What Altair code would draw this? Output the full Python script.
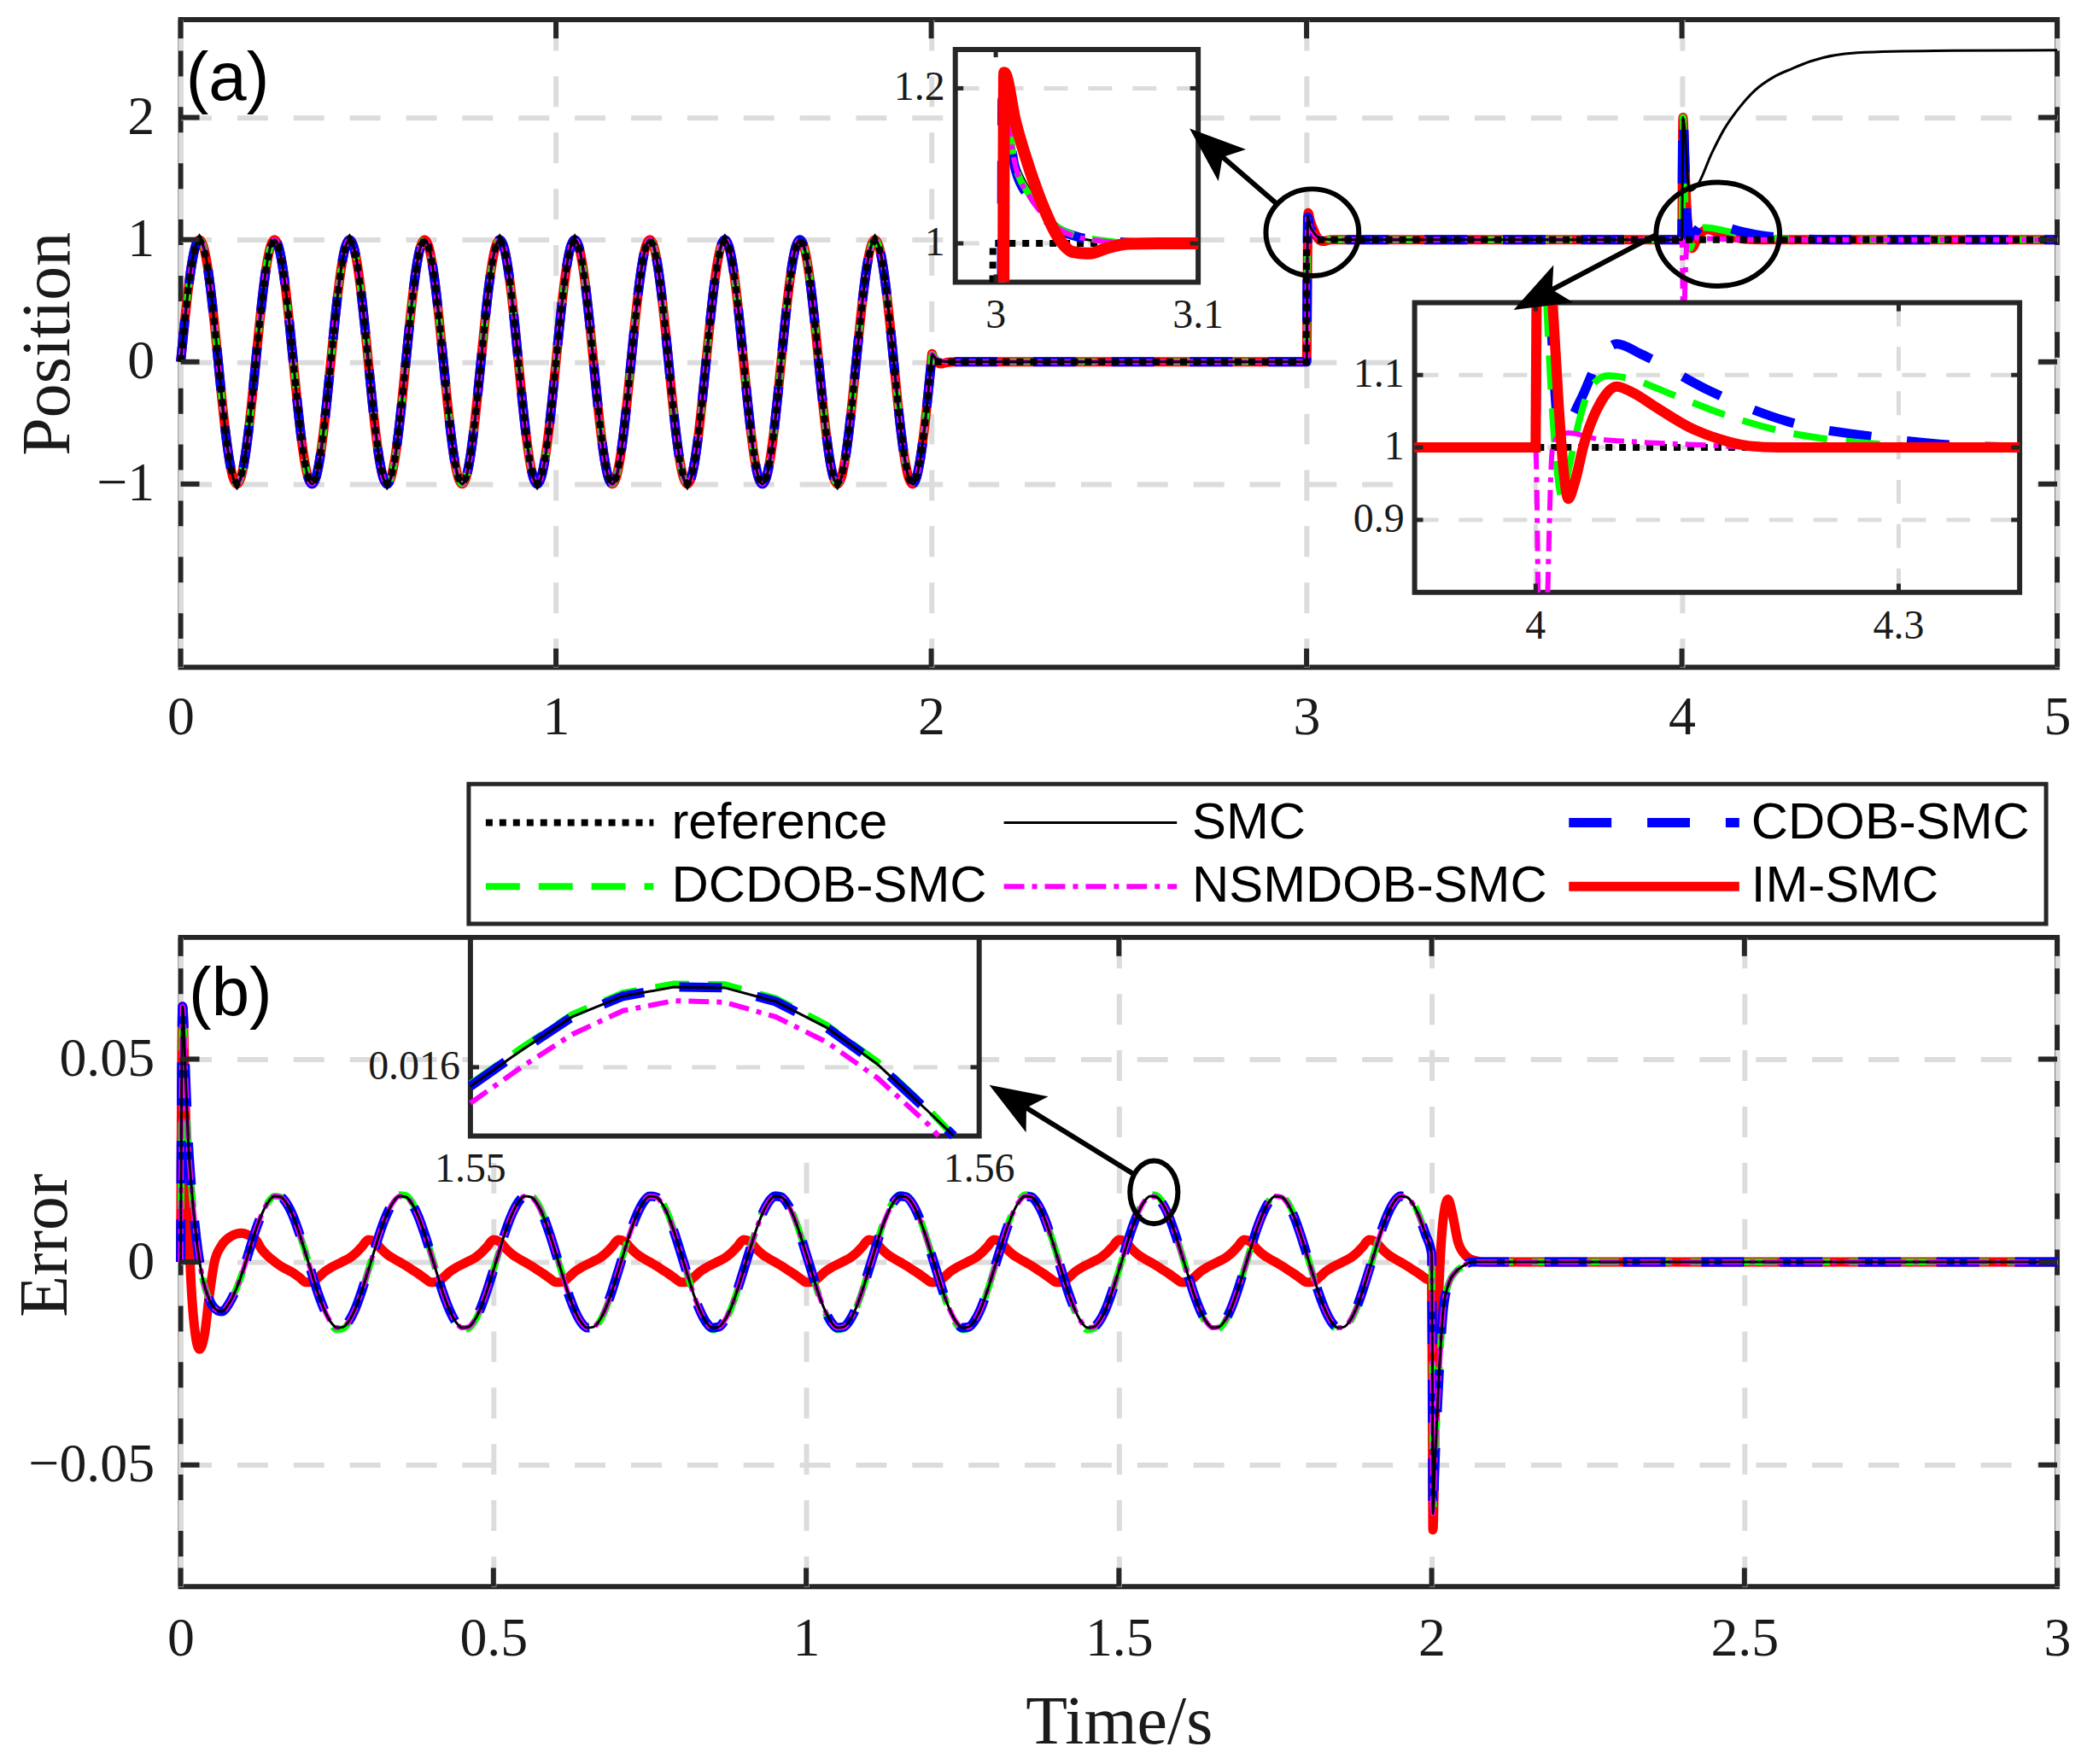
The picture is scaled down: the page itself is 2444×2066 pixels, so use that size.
import altair as alt
import pandas as pd

# ---------------- layout / style constants ----------------
W = 2202
H_TOP = 760
H_LEG = 297
H_BOT = 762
GAP = 10

FRAME = "#262626"
GRID = "#dcdcdc"
TXT = "#1a1a1a"
SERIF = "Liberation Serif"
SANS = "Liberation Sans"

SERIES = ["reference", "SMC", "CDOB-SMC", "DCDOB-SMC", "NSMDOB-SMC", "IM-SMC"]
COLORS = ["#000000", "#000000", "#0000ff", "#00ff00", "#ff00ff", "#ff0000"]
WIDTHS = [8, 3, 11, 8, 6, 11]
DASHES = [[8, 8], None, [50, 42], [40, 22], [24, 9, 6, 9], None]

# ---------------- data: panel (a) position ----------------
CYCLE_STEP = 0.01
PERIOD = 0.2
POS_CYCLE = [0.0, 0.309, 0.588, 0.809, 0.951, 1.0, 0.951, 0.809, 0.588, 0.309,
             0.0, -0.309, -0.588, -0.809, -0.951, -1.0, -0.951, -0.809, -0.588, -0.309]
POS_CYCLES = 10

POS_TAIL_REF = [(2.0, 0.0), (2.999, 0.0), (3.0, 1.0), (5.0, 1.0)]
POS_T2_COMMON = [(2.0, 0.0), (2.002, 0.062), (2.011, 0.030), (2.019, 0.011), (2.038, 0.0025), (2.065, 0.0)]
POS_TAIL_SMC = [(3.0, 0.0), (3.0034, 1.19), (3.0097, 1.110), (3.0168, 1.069), (3.024, 1.040), (3.031, 1.022),
                (3.041, 1.007), (3.052, 1.0025), (3.066, 1.0), (4.0, 1.0), (4.003, 2.0), (4.02, 1.40),
                (4.04, 1.44), (4.08, 1.71), (4.112, 1.90), (4.153, 2.08), (4.194, 2.22), (4.244, 2.33),
                (4.294, 2.40), (4.343, 2.46), (4.467, 2.53), (4.673, 2.546), (5.0, 2.55)]
POS_TAIL_CDOB = [(3.0, 0.0), (3.0032, 1.185), (3.0097, 1.095), (3.0168, 1.058), (3.024, 1.033), (3.031, 1.018),
                 (3.041, 1.008), (3.052, 1.004), (3.066, 1.001), (3.08, 1.0), (4.0, 1.0), (4.003, 2.0),
                 (4.012, 1.25), (4.020, 1.02), (4.037, 1.065), (4.052, 1.12), (4.067, 1.143), (4.087, 1.129),
                 (4.144, 1.078), (4.21, 1.035), (4.283, 1.014), (4.33, 1.005), (4.4, 1.0), (5.0, 1.0)]
POS_TAIL_DCDOB = [(3.0, 0.0), (3.0033, 1.19), (3.0097, 1.10), (3.0168, 1.062), (3.024, 1.036), (3.031, 1.02),
                  (3.041, 1.009), (3.052, 1.004), (3.07, 1.0), (4.0, 1.0), (4.003, 2.0), (4.009, 1.25),
                  (4.016, 1.0), (4.022, 0.930), (4.028, 0.975), (4.034, 1.023), (4.047, 1.087), (4.060, 1.099),
                  (4.080, 1.094), (4.110, 1.075), (4.160, 1.043), (4.21, 1.020), (4.26, 1.008), (4.31, 1.002),
                  (4.35, 1.0), (5.0, 1.0)]
POS_TAIL_NSMDOB = [(3.0, 0.0), (3.0033, 1.188), (3.0097, 1.10), (3.0168, 1.06), (3.024, 1.035), (3.031, 1.019),
                   (3.041, 1.008), (3.052, 1.003), (3.07, 1.0), (4.0, 1.0), (4.004, 0.30), (4.011, 0.85),
                   (4.014, 1.0), (4.02, 1.017), (4.027, 1.02), (4.05, 1.012), (4.08, 1.008), (4.13, 1.004),
                   (4.2, 1.0), (5.0, 1.0)]
POS_TAIL_IM = [(2.0, 0.0), (2.002, 0.066), (2.006, 0.035), (2.012, 0.005), (2.018, -0.010), (2.026, -0.0165),
               (2.033, -0.012), (2.042, -0.005), (2.055, -0.0015), (2.07, -0.0003), (2.085, 0.0),
               (3.0, 0.0), (3.0042, 1.22), (3.0097, 1.157), (3.0168, 1.095), (3.024, 1.044), (3.031, 1.007),
               (3.038, 0.989), (3.0464, 0.987), (3.055, 0.994), (3.066, 0.9995), (3.08, 1.0), (4.0, 1.0),
               (4.003, 2.0), (4.008, 1.6), (4.014, 1.2), (4.022, 0.98), (4.027, 0.929), (4.034, 0.96),
               (4.040, 1.005), (4.054, 1.063), (4.067, 1.084), (4.080, 1.076), (4.100, 1.055), (4.127, 1.028),
               (4.153, 1.011), (4.177, 1.002), (4.2, 1.0), (5.0, 1.0)]

# inset 1 (t in [2.98, 3.10], value in [0.95, 1.25])
IN1_REF = [(2.9985, 0.95), (2.9986, 1.0), (3.1, 1.0)]
IN1_SMC = [(3.0030, 0.95), (3.0034, 1.19), (3.0097, 1.110), (3.0168, 1.069), (3.0239, 1.040), (3.031, 1.022),
           (3.041, 1.007), (3.052, 1.0025), (3.066, 1.0), (3.1, 1.0)]
IN1_CDOB = [(3.0029, 0.95), (3.0032, 1.185), (3.0097, 1.095), (3.0168, 1.058), (3.024, 1.033), (3.031, 1.018),
            (3.041, 1.008), (3.052, 1.004), (3.066, 1.001), (3.08, 1.0), (3.1, 1.0)]
IN1_DCDOB = [(3.0030, 0.95), (3.0033, 1.19), (3.0097, 1.10), (3.0168, 1.062), (3.024, 1.036), (3.031, 1.02),
             (3.041, 1.009), (3.052, 1.004), (3.07, 1.0), (3.1, 1.0)]
IN1_NSMDOB = [(3.0030, 0.95), (3.0033, 1.188), (3.0097, 1.10), (3.0168, 1.06), (3.024, 1.035), (3.031, 1.019),
              (3.041, 1.008), (3.052, 1.003), (3.07, 1.0), (3.1, 1.0)]
IN1_IM = [(3.0038, 0.95), (3.0042, 1.22), (3.0097, 1.157), (3.0168, 1.095), (3.024, 1.044), (3.031, 1.007),
          (3.038, 0.989), (3.0464, 0.987), (3.055, 0.994), (3.066, 0.9995), (3.08, 1.0), (3.1, 1.0)]

# inset 2 (t in [3.9, 4.4], value in [0.8, 1.2]); pieces leave/enter through the frame
IN2_REF = [[(3.9, 1.0), (4.4, 1.0)]]
IN2_SMC = [[(3.9, 1.0), (4.0, 1.0), (4.0006, 1.2)]]
IN2_CDOB = [[(3.9, 1.0), (4.0, 1.0), (4.0008, 1.2)],
            [(4.012, 1.2), (4.020, 1.02), (4.037, 1.065), (4.052, 1.12), (4.067, 1.143), (4.087, 1.129),
             (4.144, 1.078), (4.21, 1.035), (4.283, 1.014), (4.33, 1.005), (4.4, 1.0)]]
IN2_DCDOB = [[(3.9, 1.0), (4.0, 1.0), (4.0008, 1.2)],
             [(4.009, 1.2), (4.016, 1.0), (4.022, 0.930), (4.028, 0.975), (4.034, 1.023), (4.047, 1.087),
              (4.060, 1.099), (4.080, 1.094), (4.110, 1.075), (4.160, 1.043), (4.21, 1.020), (4.26, 1.008),
              (4.31, 1.002), (4.35, 1.0), (4.4, 1.0)]]
IN2_NSMDOB = [[(3.9, 1.0), (4.0, 1.0), (4.002, 0.8)],
              [(4.010, 0.8), (4.014, 1.0), (4.02, 1.017), (4.027, 1.02), (4.05, 1.012), (4.08, 1.008),
               (4.13, 1.004), (4.2, 1.0), (4.4, 1.0)]]
IN2_IM = [[(3.9, 1.0), (4.0, 1.0), (4.0008, 1.2)],
          [(4.014, 1.2), (4.019, 1.06), (4.023, 0.97), (4.027, 0.929), (4.032, 0.95), (4.040, 1.005),
           (4.054, 1.063), (4.067, 1.084), (4.080, 1.076), (4.100, 1.055), (4.127, 1.028), (4.153, 1.011),
           (4.177, 1.002), (4.2, 1.0), (4.4, 1.0)]]

# ---------------- data: panel (b) error ----------------
ERR_CYCLE_SMC = [0.0020, -0.0030, -0.0079, -0.0119, -0.0148, -0.0162, -0.0160, -0.0143, -0.0112, -0.0069,
                 -0.0020, 0.0030, 0.0079, 0.0119, 0.0148, 0.0162, 0.0160, 0.0143, 0.0112, 0.0069]
ERR_CYCLE_DCDOB = [0.0022, -0.0030, -0.0081, -0.0123, -0.0153, -0.0167, -0.0164, -0.0146, -0.0114, -0.0070,
                   -0.0020, 0.0031, 0.0081, 0.0122, 0.0151, 0.0166, 0.0164, 0.0147, 0.0115, 0.0071]
ERR_CYCLE_IM = [-0.0050, -0.0049, -0.0038, -0.0024, -0.0014, -0.0006, 0.0002, 0.0010, 0.0022, 0.0038,
                0.0055, 0.0050, 0.0033, 0.0019, 0.0009, 0.0000, -0.0009, -0.0019, -0.0029, -0.0040]
ERR_CYCLES = 9
ERR_HEAD = [(0.0, 0.0), (0.003, 0.063), (0.008, 0.045), (0.012, 0.030), (0.018, 0.017), (0.025, 0.006),
            (0.035, -0.004), (0.045, -0.009), (0.055, -0.0115), (0.065, -0.0122), (0.08, -0.0095),
            (0.09, -0.0062), (0.10, -0.0020), (0.11, 0.0030), (0.12, 0.0079), (0.13, 0.0119),
            (0.14, 0.0148), (0.15, 0.0162), (0.16, 0.0160), (0.17, 0.0143), (0.18, 0.0112), (0.19, 0.0069)]
ERR_TAIL = [(2.0, 0.002), (2.001, -0.02), (2.002, -0.062), (2.005, -0.050), (2.011, -0.030), (2.019, -0.011),
            (2.028, -0.005), (2.038, -0.0025), (2.05, -0.001), (2.065, 0.0), (3.0, 0.0)]
ERR_HEAD_IM = [(0.0, 0.0), (0.003, 0.063), (0.008, 0.035), (0.015, 0.0), (0.022, -0.016), (0.030, -0.0215),
               (0.038, -0.018), (0.046, -0.008), (0.054, 0.0), (0.065, 0.004), (0.08, 0.0063), (0.097, 0.0071),
               (0.11, 0.0065), (0.12, 0.0055), (0.13, 0.003), (0.146, 0.0006), (0.16, -0.001), (0.179, -0.0026),
               (0.19, -0.0038)]
ERR_TAIL_IM = [(2.0, -0.005), (2.001, -0.03), (2.002, -0.066), (2.006, -0.035), (2.012, -0.005), (2.018, 0.010),
               (2.026, 0.0155), (2.033, 0.012), (2.042, 0.005), (2.055, 0.0015), (2.07, 0.0003), (2.085, 0.0),
               (3.0, 0.0)]

# inset (b) (t in [1.55, 1.56]); sampled every 1 ms
INB_SMC = [(1.550, 0.015975), (1.551, 0.016022), (1.552, 0.016066), (1.553, 0.016093), (1.554, 0.016105),
           (1.555, 0.016104), (1.556, 0.016086), (1.557, 0.016052), (1.558, 0.016004), (1.559, 0.015942),
           (1.5595, 0.01591)]
INB_DCDOB = [(1.550, 0.015978), (1.551, 0.016025), (1.552, 0.016069), (1.553, 0.016097), (1.554, 0.016109),
             (1.555, 0.016108), (1.556, 0.016090), (1.557, 0.016055), (1.558, 0.016007), (1.559, 0.015945),
             (1.5595, 0.01591)]
INB_NSMDOB = [(1.550, 0.015953), (1.551, 0.016000), (1.552, 0.016043), (1.553, 0.016074), (1.554, 0.016087),
              (1.555, 0.016085), (1.556, 0.016066), (1.557, 0.016033), (1.558, 0.015986), (1.559, 0.015925),
              (1.5592, 0.01591)]

# ---------------- annotations ----------------
ELLIPSE_A = "M-1,0A1,0.935,0,1,1,1,0A1,0.935,0,1,1,-1,0Z"
ELLIPSE_B = "M-1,0A1,0.84,0,1,1,1,0A1,0.84,0,1,1,-1,0Z"
ELLIPSE_C = "M-0.76,0A0.76,1,0,1,1,0.76,0A0.76,1,0,1,1,-0.76,0Z"
HEAD = "M0,-1L0.75,1L0,0.55L-0.75,1Z"
CIRCLES_TOP = [(3.0154, 1.059, ELLIPSE_A, 11881), (4.096, 1.045, ELLIPSE_B, 21025)]
CIRCLES_BOT = [(1.556, 0.0172, ELLIPSE_C, 5476)]
ARROWS_TOP = [((2.922, 1.289), (2.745, 1.759), 310.8), ((3.932, 1.040), (3.618, 0.532), 242.2)]
ARROWS_BOT = [((1.5245, 0.0216), (1.331, 0.0400), 301.7)]

# ---------------- legend ----------------
LEG_ITEMS = [("reference", 0, 0), ("SMC", 1, 0), ("CDOB-SMC", 2, 0),
             ("DCDOB-SMC", 0, 1), ("NSMDOB-SMC", 1, 1), ("IM-SMC", 2, 1)]
LEG_COLS = [(0.1626, 0.252, 0.2616), (0.4387, 0.5309, 0.539), (0.7398, 0.8306, 0.837)]
LEG_ROWS = [0.4195, 0.1677]
LEG_BOX = (0.1535, 0.9941, 0.020, 0.572)


# ---------------- helpers ----------------
def periodic(cycle, t0, n):
    pts = []
    for k in range(n):
        for i, v in enumerate(cycle):
            pts.append((round(t0 + PERIOD * k + CYCLE_STEP * i, 4), v))
    return pts


def style(name, width=None):
    i = SERIES.index(name)
    kw = dict(color=COLORS[i], strokeWidth=width or WIDTHS[i])
    if DASHES[i]:
        kw["strokeDash"] = DASHES[i]
    return kw


def line_chart(segments, name, xs, ys, xa=None, ya=None, interp="monotone", width=None):
    rows = []
    for k, seg in enumerate(segments):
        for t, v in seg:
            rows.append({"t": t, "v": v, "seg": k})
    return alt.Chart(pd.DataFrame(rows)).mark_line(interpolate=interp, **style(name, width)).encode(
        x=alt.X("t:Q", scale=xs, axis=xa), y=alt.Y("v:Q", scale=ys, axis=ya), detail="seg:N")


def make_axis(values, title=None, label_expr=None, pad=30, **extra):
    kw = dict(values=values, grid=True, gridColor=GRID, gridWidth=6, gridDash=[36, 30],
              ticks=False, domain=False, labelFont=SERIF, labelFontSize=64, labelColor=TXT,
              labelPadding=pad, labelFlush=False, labelOverlap=False, format="~g")
    if label_expr:
        kw["labelExpr"] = label_expr
    if title:
        kw.update(title=title, titleFont=SERIF, titleFontSize=80, titleFontWeight="normal",
                  titleColor=TXT, titleBaseline="alphabetic", titleAlign="center")
    else:
        kw["title"] = None
    kw.update(extra)
    return alt.Axis(**kw)


def frame_ticks(xvals, yvals, xs, ys, xa, ya, w, h, L=22):
    kw = dict(color=FRAME, strokeWidth=6)
    dy = pd.DataFrame({"v": yvals})
    dx = pd.DataFrame({"t": xvals})
    Ye = alt.Y("v:Q", scale=ys, axis=ya)
    Xe = alt.X("t:Q", scale=xs, axis=xa)
    return [
        alt.Chart(dy).mark_rule(**kw).encode(y=Ye, x=alt.value(0), x2=alt.value(L)),
        alt.Chart(dy).mark_rule(**kw).encode(y=Ye, x=alt.value(w - L), x2=alt.value(w)),
        alt.Chart(dx).mark_rule(**kw).encode(x=Xe, y=alt.value(h - L), y2=alt.value(h)),
        alt.Chart(dx).mark_rule(**kw).encode(x=Xe, y=alt.value(0), y2=alt.value(L)),
    ]


def build_inset(xs, ys, xdom, ydom, curves, interp, hgrid, vgrid, yticks, xticks, tlx, tly,
                ylabels, xlabels, fs=48, red_width=None):
    Xe = alt.X("t:Q", scale=xs, axis=None)
    Ye = alt.Y("v:Q", scale=ys, axis=None)
    box = pd.DataFrame([{"t": xdom[0], "t2": xdom[1], "v": ydom[0], "v2": ydom[1]}])
    layers = [alt.Chart(box).mark_rect(fill="white").encode(x=Xe, x2="t2:Q", y=Ye, y2="v2:Q")]
    gkw = dict(color=GRID, strokeWidth=5, strokeDash=[28, 24])
    if hgrid:
        df = pd.DataFrame([{"t": xdom[0], "t2": xdom[1], "v": g} for g in hgrid])
        layers.append(alt.Chart(df).mark_rule(**gkw).encode(x=Xe, x2="t2:Q", y=Ye))
    if vgrid:
        df = pd.DataFrame([{"t": g, "v": ydom[0], "v2": ydom[1]} for g in vgrid])
        layers.append(alt.Chart(df).mark_rule(**gkw).encode(x=Xe, y=Ye, y2="v2:Q"))
    layers.append(alt.Chart(box).mark_rect(fillOpacity=0, stroke=FRAME, strokeWidth=6).encode(
        x=Xe, x2="t2:Q", y=Ye, y2="v2:Q"))
    for name, segs in curves:
        ip = "linear" if name == "reference" else interp
        wd = red_width if name == "IM-SMC" else None
        layers.append(line_chart(segs, name, xs, ys, interp=ip, width=wd))
    tk = dict(color=FRAME, strokeWidth=5)
    hrows = [{"t": xdom[0], "t2": xdom[0] + tlx, "v": y} for y in yticks] + \
            [{"t": xdom[1] - tlx, "t2": xdom[1], "v": y} for y in yticks]
    vrows = [{"t": x, "v": ydom[0], "v2": ydom[0] + tly} for x in xticks] + \
            [{"t": x, "v": ydom[1] - tly, "v2": ydom[1]} for x in xticks]
    if hrows:
        layers.append(alt.Chart(pd.DataFrame(hrows)).mark_rule(**tk).encode(x=Xe, x2="t2:Q", y=Ye))
    if vrows:
        layers.append(alt.Chart(pd.DataFrame(vrows)).mark_rule(**tk).encode(x=Xe, y=Ye, y2="v2:Q"))
    tkw = dict(font=SERIF, fontSize=fs, color=TXT)
    ydf = pd.DataFrame([{"t": xdom[0], "v": v, "s": s} for v, s in ylabels])
    layers.append(alt.Chart(ydf).mark_text(align="right", baseline="middle", dx=-12, **tkw).encode(
        x=Xe, y=Ye, text="s:N"))
    xdf = pd.DataFrame([{"t": v, "v": ydom[0], "s": s} for v, s in xlabels])
    layers.append(alt.Chart(xdf).mark_text(align="center", baseline="top", dy=16, **tkw).encode(
        x=Xe, y=Ye, text="s:N"))
    return alt.layer(*layers)


def annotations(circles, arrows, xs, ys):
    Xe = alt.X("t:Q", scale=xs, axis=None)
    Ye = alt.Y("v:Q", scale=ys, axis=None)
    layers = []
    for t, v, path, size in circles:
        layers.append(alt.Chart(pd.DataFrame([{"t": t, "v": v}])).mark_point(
            shape=path, size=size, filled=False, color="black", strokeWidth=6, opacity=1).encode(x=Xe, y=Ye))
    for (t0, v0), (t1, v1), ang in arrows:
        df = pd.DataFrame([{"t": t0, "v": v0}, {"t": t1, "v": v1}])
        layers.append(alt.Chart(df).mark_line(color="black", strokeWidth=6).encode(x=Xe, y=Ye))
        layers.append(alt.Chart(pd.DataFrame([{"t": t1, "v": v1}])).mark_point(
            shape=HEAD, size=4356, angle=ang, filled=True, color="black", opacity=1).encode(x=Xe, y=Ye))
    return alt.layer(*layers)


def panel_label(text, t, v, xs, ys, xa, ya):
    df = pd.DataFrame([{"t": t, "v": v, "s": text}])
    return alt.Chart(df).mark_text(align="left", baseline="middle", font=SANS, fontSize=80,
                                   color="black").encode(
        x=alt.X("t:Q", scale=xs, axis=xa), y=alt.Y("v:Q", scale=ys, axis=ya), text="s:N")


# ---------------- panel (a) ----------------
XS_A = alt.Scale(domain=[0, 5], nice=False, zero=False)
YS_A = alt.Scale(domain=[-2.5, 2.8], nice=False, zero=False)
AX_AX = make_axis([0, 1, 2, 3, 4, 5], pad=27)
AX_AY = make_axis([-1, 0, 1, 2], title="Position", pad=31, titleAngle=270, titleX=-131, titleY=H_TOP / 2)

sine = periodic(POS_CYCLE, 0.0, POS_CYCLES)
pos = {
    "reference": sine + POS_TAIL_REF,
    "SMC": sine + POS_T2_COMMON + POS_TAIL_SMC,
    "CDOB-SMC": sine + POS_T2_COMMON + POS_TAIL_CDOB,
    "DCDOB-SMC": sine + POS_T2_COMMON + POS_TAIL_DCDOB,
    "NSMDOB-SMC": sine + POS_T2_COMMON + POS_TAIL_NSMDOB,
    "IM-SMC": sine + POS_TAIL_IM,
}
a_layers = []
for name in ["IM-SMC", "DCDOB-SMC", "CDOB-SMC", "NSMDOB-SMC", "SMC", "reference"]:
    a_layers.append(line_chart([pos[name]], name, XS_A, YS_A, AX_AX, AX_AY,
                               interp="linear" if name == "reference" else "monotone"))
a_layers += frame_ticks([0, 1, 2, 3, 4, 5], [-1, 0, 1, 2], XS_A, YS_A, AX_AX, AX_AY, W, H_TOP)
a_layers.append(panel_label("(a)", 0.014, 2.31, XS_A, YS_A, AX_AX, AX_AY))
a_main = alt.layer(*a_layers)

XS_I1 = alt.Scale(domain=[2.98, 3.10], range=[909, 1194], nice=False, zero=False)
YS_I1 = alt.Scale(domain=[0.95, 1.25], range=[308, 35], nice=False, zero=False)
inset1 = build_inset(
    XS_I1, YS_I1, (2.98, 3.10), (0.95, 1.25),
    [("reference", [IN1_REF]), ("SMC", [IN1_SMC]), ("CDOB-SMC", [IN1_CDOB]), ("DCDOB-SMC", [IN1_DCDOB]),
     ("NSMDOB-SMC", [IN1_NSMDOB]), ("IM-SMC", [IN1_IM])],
    "monotone", [1.0, 1.2], [], [1.0, 1.2], [3.0, 3.1], 0.004, 0.01,
    [(1.2, "1.2"), (1.0, "1")], [(3.0, "3"), (3.1, "3.1")], red_width=14)

XS_I2 = alt.Scale(domain=[3.9, 4.4], range=[1448, 2158], nice=False, zero=False)
YS_I2 = alt.Scale(domain=[0.8, 1.2], range=[672, 332], nice=False, zero=False)
inset2 = build_inset(
    XS_I2, YS_I2, (3.9, 4.4), (0.8, 1.2),
    [("reference", IN2_REF), ("CDOB-SMC", IN2_CDOB), ("DCDOB-SMC", IN2_DCDOB), ("NSMDOB-SMC", IN2_NSMDOB),
     ("SMC", IN2_SMC), ("IM-SMC", IN2_IM)],
    "monotone", [0.9, 1.0, 1.1], [4.0, 4.3], [0.9, 1.0, 1.1], [4.0, 4.3], 0.007, 0.012,
    [(1.1, "1.1"), (1.0, "1"), (0.9, "0.9")], [(4.0, "4"), (4.3, "4.3")], red_width=12)

a_annot = annotations(CIRCLES_TOP, ARROWS_TOP, XS_A, YS_A)

panel_a = alt.layer(a_main, inset1, inset2, a_annot).resolve_scale(
    x="independent", y="independent").properties(
    width=W, height=H_TOP, view=alt.ViewBackground(stroke=FRAME, strokeWidth=6))

# ---------------- legend ----------------
LXS = alt.Scale(domain=[0, 1], nice=False, zero=False)
LYS = alt.Scale(domain=[0, 1], nice=False, zero=False)
lx0, lx1, ly0, ly1 = LEG_BOX
leg_layers = [alt.Chart(pd.DataFrame([{"t": lx0, "t2": lx1, "v": ly0, "v2": ly1}])).mark_rect(
    fill="white", stroke=FRAME, strokeWidth=5).encode(
    x=alt.X("t:Q", scale=LXS, axis=None), x2="t2:Q", y=alt.Y("v:Q", scale=LYS, axis=None), y2="v2:Q")]
txt_rows = []
for name, c, r in LEG_ITEMS:
    x0, x1, xt = LEG_COLS[c]
    y = LEG_ROWS[r]
    leg_layers.append(line_chart([[(x0, y), (x1, y)]], name, LXS, LYS, interp="linear"))
    txt_rows.append({"t": xt, "v": y, "s": name})
leg_layers.append(alt.Chart(pd.DataFrame(txt_rows)).mark_text(
    align="left", baseline="middle", font=SANS, fontSize=60, color="black").encode(
    x=alt.X("t:Q", scale=LXS, axis=None), y=alt.Y("v:Q", scale=LYS, axis=None), text="s:N"))
legend = alt.layer(*leg_layers).properties(width=W, height=H_LEG)

# ---------------- panel (b) ----------------
XS_B = alt.Scale(domain=[0, 3], nice=False, zero=False)
YS_B = alt.Scale(domain=[-0.08, 0.08], nice=False, zero=False)
AX_BX = make_axis([0, 0.5, 1, 1.5, 2, 2.5, 3], title="Time/s", pad=29, titleAngle=0, titleX=W / 2, titleY=184)
AX_BY = make_axis([-0.05, 0, 0.05], title="Error", pad=31,
                  label_expr="datum.value == 0 ? '0' : format(datum.value, '.2f')",
                  titleAngle=270, titleX=-134, titleY=361)

err_main = ERR_HEAD + periodic(ERR_CYCLE_SMC, 0.2, ERR_CYCLES) + ERR_TAIL
err = {
    "SMC": err_main,
    "CDOB-SMC": err_main,
    "NSMDOB-SMC": err_main,
    "DCDOB-SMC": ERR_HEAD + periodic(ERR_CYCLE_DCDOB, 0.2, ERR_CYCLES) + ERR_TAIL,
    "IM-SMC": ERR_HEAD_IM + periodic(ERR_CYCLE_IM, 0.2, ERR_CYCLES) + ERR_TAIL_IM,
}
b_layers = []
for name in ["IM-SMC", "DCDOB-SMC", "CDOB-SMC", "NSMDOB-SMC", "SMC"]:
    b_layers.append(line_chart([err[name]], name, XS_B, YS_B, AX_BX, AX_BY))
b_layers += frame_ticks([0, 0.5, 1, 1.5, 2, 2.5, 3], [-0.05, 0, 0.05], XS_B, YS_B, AX_BX, AX_BY, W, H_BOT)
b_layers.append(panel_label("(b)", 0.013, 0.0658, XS_B, YS_B, AX_BX, AX_BY))
b_main = alt.layer(*b_layers)

XS_IB = alt.Scale(domain=[1.55, 1.56], range=[340, 937], nice=False, zero=False)
YS_IB = alt.Scale(domain=[0.01591, 0.01617], range=[233, 0], nice=False, zero=False)
insetb = build_inset(
    XS_IB, YS_IB, (1.55, 1.56), (0.01591, 0.01617),
    [("NSMDOB-SMC", [INB_NSMDOB]), ("DCDOB-SMC", [INB_DCDOB]), ("CDOB-SMC", [INB_SMC]), ("SMC", [INB_SMC])],
    "linear", [0.016], [], [0.016], [], 0.00017, 0.0,
    [(0.016, "0.016")], [(1.55, "1.55"), (1.56, "1.56")])

b_annot = annotations(CIRCLES_BOT, ARROWS_BOT, XS_B, YS_B)

panel_b = alt.layer(b_main, insetb, b_annot).resolve_scale(
    x="independent", y="independent").properties(
    width=W, height=H_BOT, view=alt.ViewBackground(stroke=FRAME, strokeWidth=6))

chart = alt.vconcat(panel_a, legend, panel_b, spacing=GAP, bounds="flush").properties(
    padding={"left": 3, "top": 7, "right": 2, "bottom": 0}
).configure_view(stroke=None)

chart.save("out.html", embed_options={"renderer": "svg", "actions": False})
